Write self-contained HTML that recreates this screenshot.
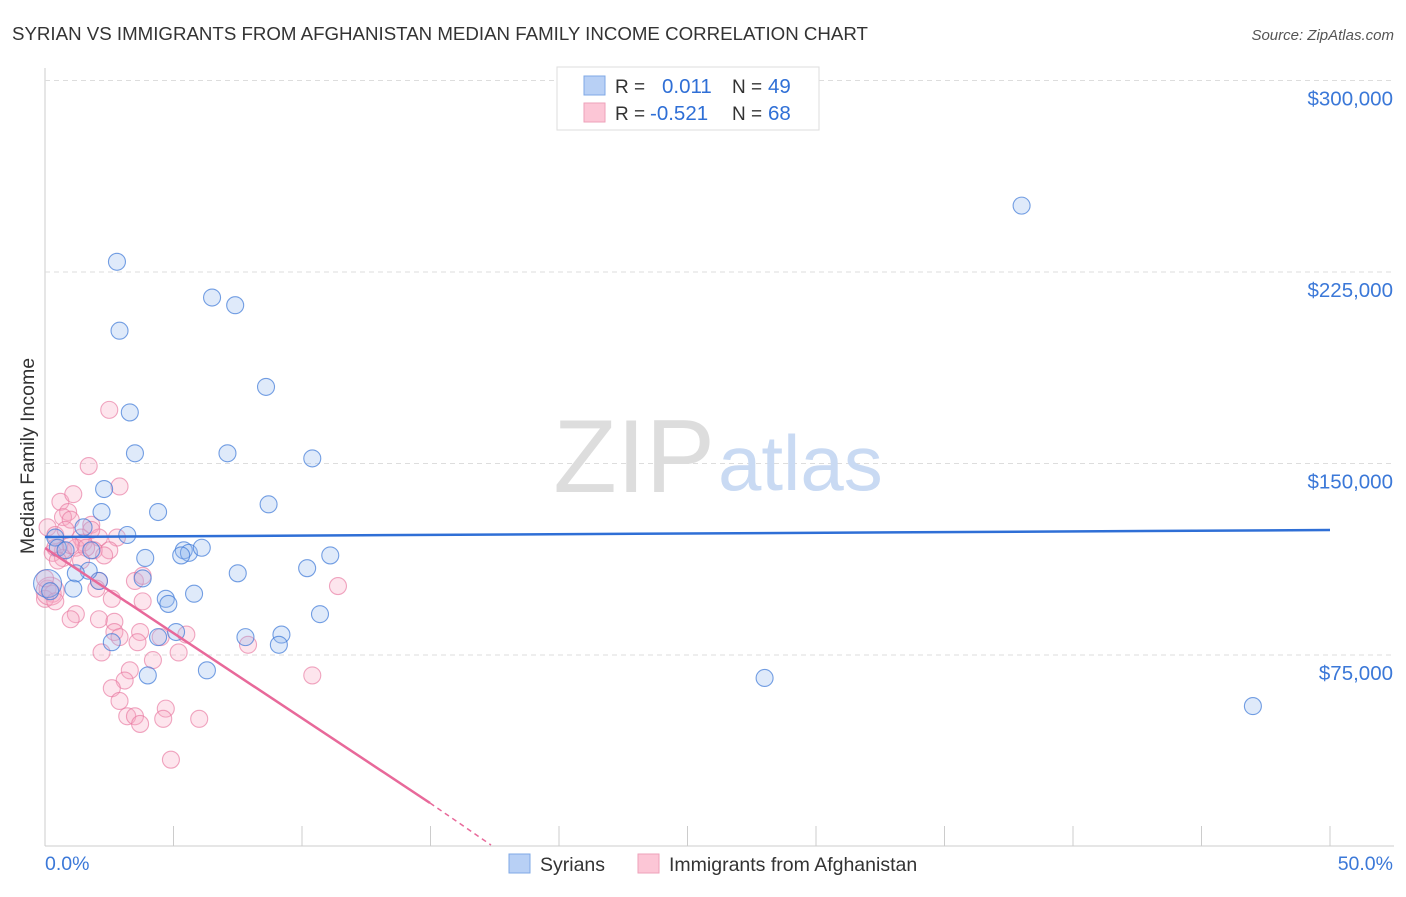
<!DOCTYPE html>
<html><head><meta charset="utf-8"><style>
body{margin:0;background:#fff;font-family:"Liberation Sans",sans-serif}
svg text{font-family:"Liberation Sans",sans-serif}
</style></head><body>
<svg id="c" width="1406" height="892" viewBox="0 0 1406 892">
<text x="12" y="40" font-size="18.7" fill="#333">SYRIAN VS IMMIGRANTS FROM AFGHANISTAN MEDIAN FAMILY INCOME CORRELATION CHART</text>
<text x="1394" y="40" font-size="15" fill="#555" font-style="italic" text-anchor="end">Source: ZipAtlas.com</text>
<text x="34" y="456" font-size="19.5" fill="#333" text-anchor="middle" transform="rotate(-90 34 456)">Median Family Income</text>
<g id="grid"></g>
<text x="715" y="492" font-size="104" fill="#ddd" text-anchor="end" font-family="Liberation Serif">ZIP</text>
<text x="718" y="490" font-size="78" fill="#c9daf3">atlas</text>
<g id="pts"></g>
<g id="lines"></g>
<g>
<rect x="557" y="67" width="262" height="63" fill="#fff" stroke="#ddd"/>
<rect x="584" y="76" width="21" height="19" fill="#b8d0f5" stroke="#7fa8e6"/>
<rect x="584" y="103" width="21" height="19" fill="#fcc6d6" stroke="#eea1ba"/>
<text x="615" y="93" font-size="19" fill="#333">R = </text><text x="662" y="93" font-size="20.5" fill="#2f6fd6">0.011</text>
<text x="732" y="93" font-size="19" fill="#333">N = </text><text x="768" y="93" font-size="20.5" fill="#2f6fd6">49</text>
<text x="615" y="120" font-size="19" fill="#333">R = </text><text x="650" y="120" font-size="20.5" fill="#2f6fd6">-0.521</text>
<text x="732" y="120" font-size="19" fill="#333">N = </text><text x="768" y="120" font-size="20.5" fill="#2f6fd6">68</text>
</g>
<g>
<rect x="509" y="854" width="21" height="19" fill="#b8d0f5" stroke="#7fa8e6"/>
<text x="540" y="871" font-size="19.5" fill="#333">Syrians</text>
<rect x="638" y="854" width="21" height="19" fill="#fcc6d6" stroke="#eea1ba"/>
<text x="669" y="871" font-size="19.5" fill="#333">Immigrants from Afghanistan</text>
</g>
</svg>
<script>
const yTicks=[75000,150000,225000,300000];
const yTickLabels=["$75,000","$150,000","$225,000","$300,000"];
const xTickLabels=["0.0%","50.0%"];
const syriansX=[2.8,2.9,6.5,7.4,8.6,3.3,3.5,7.1,10.4,2.3,8.7,4.4,2.2,3.2,1.5,0.4,0.5,0.8,1.8,3.9,5.4,5.6,6.1,5.3,11.1,10.2,7.5,3.8,2.1,1.7,1.2,1.1,0.1,4.7,4.8,5.8,10.7,5.1,4.4,7.8,9.2,9.1,2.6,4.0,6.3,38.0,28.0,47.0,0.2];
const syriansY=[229000,202000,215000,212000,180000,170000,154000,154000,152000,140000,134000,131000,131000,122000,125000,121000,117000,116000,116000,113000,116000,115000,117000,114000,114000,109000,107000,105000,104000,108000,107000,101000,103000,97000,95000,99000,91000,84000,82000,82000,83000,79000,80000,67000,69000,251000,66000,55000,100000];
const afghanX=[2.5,1.7,2.9,0.6,1.1,0.9,0.7,1.0,0.1,1.8,0.4,1.4,2.1,2.8,1.5,1.9,2.5,0.7,0.3,1.2,0.7,1.6,1.0,0.4,2.1,3.5,3.8,0.1,0.3,0.0,2.0,2.6,3.8,1.2,1.0,2.1,2.7,2.7,2.9,3.7,5.5,4.5,3.6,7.9,5.2,2.2,4.2,3.3,11.4,3.1,2.6,2.9,4.7,3.2,3.5,4.6,6.0,3.7,10.4,4.9,0.2,0.0,0.4,0.5,0.8,1.4,1.8,2.3];
const afghanY=[171000,149000,141000,135000,138000,131000,129000,128000,125000,126000,122000,121000,121000,121000,119000,116000,116000,116000,115000,117000,113000,117000,118000,117000,104000,104000,106000,101000,99000,97000,101000,97000,96000,91000,89000,89000,88000,84000,82000,84000,83000,82000,80000,79000,76000,76000,73000,69000,102000,65000,62000,57000,54000,51000,51000,50000,50000,48000,67000,34000,100000,105000,96000,112000,124000,112000,124000,114000];
const NS="http://www.w3.org/2000/svg";
const X0=45,X1=1330,YB=846.5;
function xs(p){return X0+(p/50)*(X1-X0);}
function ys(v){return YB-v/75000*191.5;}
function mk(t,a,parent){const e=document.createElementNS(NS,t);for(const k in a)e.setAttribute(k,a[k]);parent.appendChild(e);return e;}
const grid=document.getElementById('grid');
mk('line',{x1:X0,y1:68,x2:X0,y2:846,stroke:'#ccc'},grid);
mk('line',{x1:X0,y1:846,x2:1394,y2:846,stroke:'#ccc'},grid);
for(let i=0;i<=10;i++){const l=mk('line',{x1:xs(i*5),y1:826,x2:xs(i*5),y2:846,stroke:'#ccc'},grid);

}
yTicks.forEach((v,i)=>{const gy=ys(v);
mk('line',{x1:X0,y1:gy,x2:1394,y2:gy,stroke:'#ddd','stroke-dasharray':'5,4'},grid);
const t=mk('text',{x:1393,y:gy+25,'font-size':20.5,fill:'#3b78d8','text-anchor':'end'},grid);t.textContent=yTickLabels[i];

});
[0,50].forEach((p,i)=>{const t=mk('text',{x:i?1393:45,y:870,'font-size':19.5,fill:'#3b78d8','text-anchor':i?'end':'start'},grid);t.textContent=xTickLabels[i];

});
const pts=document.getElementById('pts');
function draw(X,Y,fill,stroke,name,bigIdx){X.forEach((x,i)=>{
const c=mk('circle',{cx:xs(x),cy:ys(Y[i]),r:i===bigIdx?14:8.5,fill:fill,stroke:stroke,'stroke-width':1.1},pts);

});}
draw(afghanX,afghanY,'rgba(248,170,195,0.3)','rgba(232,120,160,0.65)','afghanistan-point',60);
draw(syriansX,syriansY,'rgba(150,185,240,0.3)','rgba(60,120,215,0.7)','syrians-point',32);
const lines=document.getElementById('lines');
const b=mk('line',{x1:X0,y1:537,x2:X1,y2:530,stroke:'#2f6fd6','stroke-width':2.5},lines);


const p=mk('line',{x1:X0,y1:548,x2:430,y2:803,stroke:'#e8699a','stroke-width':2.5},lines);


const pd=mk('line',{x1:430,y1:803,x2:491,y2:845,stroke:'#e8699a','stroke-width':1.5,'stroke-dasharray':'5,4'},lines);


</script>
</body></html>
